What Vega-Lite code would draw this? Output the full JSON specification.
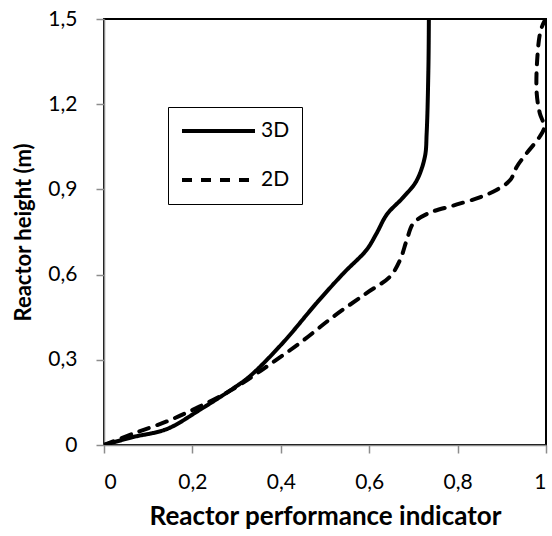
{
  "$schema": "https://vega.github.io/schema/vega-lite/v6.json",
  "width": 442,
  "height": 426,
  "autosize": "none",
  "padding": {"left": 104, "top": 19, "right": 6, "bottom": 91},
  "background": "white",
  "config": {
    "view": {"stroke": "black", "strokeWidth": 2},
    "font": "Lato",
    "axis": {
      "grid": false,
      "domainColor": "#8c8c8c",
      "domainWidth": 1.5,
      "tickColor": "#8c8c8c",
      "tickWidth": 1.5,
      "tickSize": 8,
      "labelFont": "Lato",
      "labelFontSize": 21,
      "labelColor": "black",
      "titleFont": "Lato",
      "titleFontWeight": "bold",
      "titleColor": "black"
    }
  },
  "data": {
    "values": [
      {"series": "3D", "x": 0.0, "y": 0.0},
      {"series": "3D", "x": 0.066, "y": 0.028},
      {"series": "3D", "x": 0.142, "y": 0.056},
      {"series": "3D", "x": 0.217, "y": 0.124},
      {"series": "3D", "x": 0.293, "y": 0.2},
      {"series": "3D", "x": 0.33, "y": 0.242},
      {"series": "3D", "x": 0.406, "y": 0.362},
      {"series": "3D", "x": 0.481, "y": 0.5},
      {"series": "3D", "x": 0.542, "y": 0.605},
      {"series": "3D", "x": 0.594, "y": 0.687},
      {"series": "3D", "x": 0.617, "y": 0.746},
      {"series": "3D", "x": 0.64, "y": 0.812},
      {"series": "3D", "x": 0.677, "y": 0.872},
      {"series": "3D", "x": 0.707, "y": 0.93},
      {"series": "3D", "x": 0.726, "y": 1.015},
      {"series": "3D", "x": 0.73, "y": 1.098},
      {"series": "3D", "x": 0.734, "y": 1.332},
      {"series": "3D", "x": 0.735, "y": 1.5},
      {"series": "2D", "x": 0.0, "y": 0.0},
      {"series": "2D", "x": 0.066, "y": 0.04},
      {"series": "2D", "x": 0.142, "y": 0.083},
      {"series": "2D", "x": 0.217, "y": 0.136},
      {"series": "2D", "x": 0.293, "y": 0.198},
      {"series": "2D", "x": 0.368, "y": 0.276},
      {"series": "2D", "x": 0.443, "y": 0.359},
      {"series": "2D", "x": 0.519, "y": 0.452},
      {"series": "2D", "x": 0.594, "y": 0.535},
      {"series": "2D", "x": 0.647, "y": 0.593},
      {"series": "2D", "x": 0.67, "y": 0.652},
      {"series": "2D", "x": 0.685, "y": 0.722},
      {"series": "2D", "x": 0.7, "y": 0.781},
      {"series": "2D", "x": 0.734, "y": 0.816},
      {"series": "2D", "x": 0.79, "y": 0.843},
      {"series": "2D", "x": 0.85, "y": 0.872},
      {"series": "2D", "x": 0.888, "y": 0.898},
      {"series": "2D", "x": 0.919, "y": 0.933},
      {"series": "2D", "x": 0.934, "y": 0.98},
      {"series": "2D", "x": 0.956, "y": 1.027},
      {"series": "2D", "x": 0.986, "y": 1.086},
      {"series": "2D", "x": 0.996, "y": 1.12},
      {"series": "2D", "x": 0.986, "y": 1.168},
      {"series": "2D", "x": 0.979, "y": 1.238},
      {"series": "2D", "x": 0.98, "y": 1.355},
      {"series": "2D", "x": 0.988, "y": 1.46},
      {"series": "2D", "x": 0.999, "y": 1.5}
    ]
  },
  "mark": {"type": "line", "color": "black", "strokeWidth": 4, "strokeCap": "round", "interpolate": "catmull-rom", "clip": true},
  "encoding": {
    "x": {
      "field": "x", "type": "quantitative",
      "scale": {"domain": [0, 1], "nice": false},
      "axis": {
        "values": [0, 0.2, 0.4, 0.6, 0.8, 1],
        "labelExpr": "replace(format(datum.value, '.1~f'), '.', ',')",
        "labelPadding": 18,
        "title": "Reactor performance indicator",
        "titleFontSize": 26,
        "titlePadding": 11
      }
    },
    "y": {
      "field": "y", "type": "quantitative",
      "scale": {"domain": [0, 1.5], "nice": false},
      "axis": {
        "values": [0, 0.3, 0.6, 0.9, 1.2, 1.5],
        "labelExpr": "replace(format(datum.value, '.1~f'), '.', ',')",
        "labelPadding": 19,
        "title": "Reactor height (m)",
        "titleFontSize": 22,
        "titlePadding": 12
      }
    },
    "order": {"field": "y", "type": "quantitative"},
    "strokeDash": {
      "field": "series", "type": "nominal",
      "scale": {"domain": ["3D", "2D"], "range": [[1, 0], [10, 9]]},
      "legend": {
        "title": null,
        "orient": "none",
        "legendX": 64,
        "legendY": 88,
        "padding": 12,
        "strokeColor": "black",
        "fillColor": "white",
        "symbolType": "stroke",
        "symbolSize": 5329,
        "symbolStrokeWidth": 4,
        "symbolStrokeColor": "black",
        "labelFontSize": 21,
        "labelFont": "Lato",
        "labelColor": "black",
        "labelOffset": 4,
        "clipHeight": 24,
        "rowPadding": 25
      }
    }
  }
}
